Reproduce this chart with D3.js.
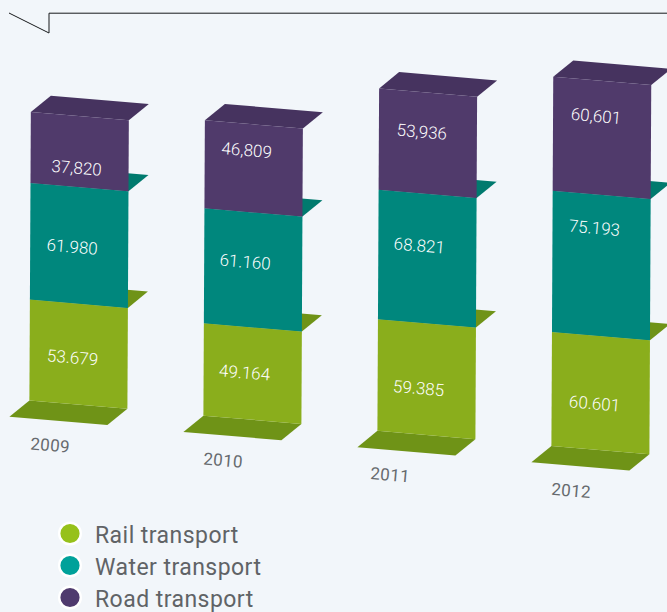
<!DOCTYPE html>
<html>
<head>
<meta charset="utf-8">
<script src="https://cdn.jsdelivr.net/npm/d3@7/dist/d3.min.js"></script>
<style>
  html, body { margin: 0; padding: 0; background: #f2f6fa; }
  svg { display: block; }
  text { font-family: Roboto, sans-serif; }
</style>
</head>
<body>
<svg id="chart" width="667" height="612"></svg>
<script>
// Freight volumes per year and mode of transport, stacked bottom to top.
const years = ["2009", "2010", "2011", "2012"];
const modes = ["Rail transport", "Water transport", "Road transport"];
const railValues = [53.679, 49.164, 59.385, 60.601];
const waterValues = [61.980, 61.160, 68.821, 75.193];
const roadValues = [37.820, 46.809, 53.936, 60.601];
const railLabels = ["53.679", "49.164", "59.385", "60.601"];
const waterLabels = ["61.980", "61.160", "68.821", "75.193"];
const roadLabels = ["37,820", "46,809", "53,936", "60,601"];

const valueRows = [railValues, waterValues, roadValues];
const labelRows = [railLabels, waterLabels, roadLabels];

// Appearance of each stack layer.
const frontColors = ["#8aae1c", "#00877d", "#503a6b"];
const capColors = ["#6f9317", "#007a6e", "#46335f"];
const legendColors = ["#96c11a", "#00a19a", "#4f3a6e"];

// Where each printed value sits: share of the layer height, and offset along the bar.
const labelShare = [
  [0.456, 0.497, 0.408, 0.400],
  [0.479, 0.559, 0.591, 0.758],
  [0.260, 0.694, 0.602, 0.682]
];
const labelAlong = [
  [43, 41, 41, 43],
  [42, 41, 41, 42],
  [46, 42, 43, 43]
];
const yearShift = [21, 20, 13, 20];

const svg = d3.select("#chart");

// Oblique projection: along = across the bar front, rise = up the bar, depth = into the page.
const barWidth = 98;
const slope = 0.0847;
const lean = 0.005;
const depthX = 20;
const depthY = -16.3;

const baseX = d3.scalePoint().domain(years).range([29.4, 551.4]);
const baseY = d3.scalePoint().domain(years).range([400.5, 446]);
const rise = d3.scaleLinear().domain([0, 100]).range([0, 188]);

const project = (year, along, up, depth = 0) => [
  baseX(year) + along + up * lean + depth * depthX,
  baseY(year) + along * slope - up + depth * depthY
];

const rows = years.map((year, i) => {
  const row = { year };
  modes.forEach((m, k) => { row[m] = valueRows[k][i]; });
  return row;
});
const layers = d3.stack().keys(modes)(rows);

const outline = d3.line().curve(d3.curveLinearClosed);

// Rule with a folded corner across the top.
svg.append("path")
  .attr("d", d3.line()([[9, 13], [49, 33], [49, 13.2], [667, 13.2]]))
  .attr("fill", "none")
  .attr("stroke", "#17191b")
  .attr("stroke-width", 1);

// Each bar: floor first, then the layers from the bottom up so that upper fronts cover lower caps.
years.forEach((year, i) => {
  const bar = svg.append("g").attr("class", "bar");
  bar.append("path")
    .attr("d", outline([
      project(year, 0, 0),
      project(year, barWidth, 0),
      project(year, barWidth, 0, -1),
      project(year, 0, 0, -1)
    ]))
    .attr("fill", capColors[0]);

  layers.forEach((layer, k) => {
    const low = rise(layer[i][0]);
    const high = rise(layer[i][1]);
    bar.append("path")
      .attr("d", outline([
        project(year, 0, high),
        project(year, barWidth, high),
        project(year, barWidth, high, 1),
        project(year, 0, high, 1)
      ]))
      .attr("fill", capColors[k]);
    bar.append("path")
      .attr("d", outline([
        project(year, 0, low),
        project(year, barWidth, low),
        project(year, barWidth, high),
        project(year, 0, high)
      ]))
      .attr("fill", frontColors[k]);
  });
});

// Value labels follow the slant of the bar fronts.
const angle = Math.atan(slope) * 180 / Math.PI;
layers.forEach((layer, k) => {
  years.forEach((year, i) => {
    const low = rise(layer[i][0]);
    const high = rise(layer[i][1]);
    const [x, y] = project(year, labelAlong[k][i], low + (high - low) * labelShare[k][i]);
    svg.append("text")
      .attr("transform", `translate(${x},${y - 0.8}) rotate(${angle})`)
      .attr("text-anchor", "middle")
      .attr("dy", "0.36em")
      .attr("font-size", 17)
      .attr("font-weight", 300)
      .attr("fill", "#ffffff")
      .text(labelRows[k][i]);
  });
});

// Year captions under the floors.
years.forEach((year, i) => {
  const [x, y] = project(year, yearShift[i], -43.5);
  svg.append("text")
    .attr("transform", `translate(${x},${y - 0.8}) rotate(${angle})`)
    .attr("text-anchor", "middle")
    .attr("dy", "0.36em")
    .attr("font-size", 17)
    .attr("letter-spacing", 0.3)
    .attr("fill", "#666a6e")
    .text(year);
});

// Legend, top to bottom in stacking order.
const legendY = d3.scalePoint().domain(modes).range([533.5, 597.5]);
const legend = svg.selectAll("g.legend").data(modes).join("g")
  .attr("class", "legend")
  .attr("transform", m => `translate(70,${legendY(m)})`);
legend.append("circle")
  .attr("r", 10.8)
  .attr("fill", (m, k) => legendColors[k])
  .attr("stroke", "#ffffff")
  .attr("stroke-width", 2.4);
legend.append("text")
  .attr("x", 25)
  .attr("y", 9.8)
  .attr("font-size", 23)
  .attr("letter-spacing", 0.45)
  .attr("fill", "#606366")
  .text(m => m);
</script>
</body>
</html>
